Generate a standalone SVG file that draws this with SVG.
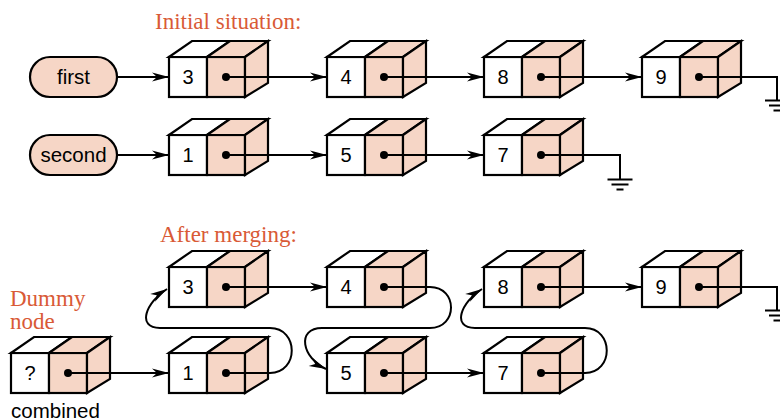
<svg xmlns="http://www.w3.org/2000/svg" width="780" height="418" viewBox="0 0 780 418">
<style>
  .w { fill: #ffffff; stroke: #000; stroke-width: 2.2; stroke-linejoin: miter; }
  .p { fill: #F6D6C6; stroke: #000; stroke-width: 2.2; stroke-linejoin: miter; }
  .dot { fill: #000; }
  .lbl { font-family: "Liberation Sans", Arial, sans-serif; font-size: 20px; text-anchor: middle; fill: #000; }
  .ptxt { font-family: "Liberation Sans", Arial, sans-serif; font-size: 20.5px; text-anchor: middle; fill: #000; }
  .title { font-family: "Liberation Serif", "Times New Roman", serif; font-size: 23px; fill: #D95A36; }
  .cap { font-family: "Liberation Sans", Arial, sans-serif; font-size: 20.5px; fill: #000; }
  .c { fill: none; stroke: #000; stroke-width: 2; }
  .a { fill: none; stroke: #000; stroke-width: 2; marker-end: url(#arr); }
</style>
<defs>
  <marker id="arr" markerUnits="userSpaceOnUse" viewBox="-18 -6 19 12" refX="0" refY="0" markerWidth="19" markerHeight="12" orient="auto">
    <path d="M0,0 L-17,-4.5 L-12,0 L-17,4.5 Z" fill="#000"/>
  </marker>
  <g id="box">
    <rect class="w" x="0" y="0" width="38" height="40"/>
    <rect class="p" x="38" y="0" width="38" height="40"/>
    <polygon class="w" points="0,0 23,-16 61,-16 38,0"/>
    <polygon class="p" points="38,0 61,-16 99,-16 76,0"/>
    <polygon class="p" points="76,0 99,-16 99,26 76,40"/>
    <circle class="dot" cx="57" cy="20" r="4"/>
  </g>
</defs>

<text class="title" x="155" y="29">Initial situation:</text>
<text class="title" x="160" y="241.5">After merging:</text>
<text class="title" x="10" y="306">Dummy</text>
<text class="title" x="10" y="329">node</text>

<g id="pill-first">
  <rect class="p" x="30" y="57" width="87" height="40" rx="20" ry="20"/>
  <text class="ptxt" x="73.5" y="83.5">first</text>
</g>
<g id="pill-second">
  <rect class="p" x="30" y="135" width="87" height="40" rx="20" ry="20"/>
  <text class="ptxt" x="73.5" y="161.5">second</text>
</g>

<g id="t-node3" transform="translate(169,57)"><use href="#box"/><text class="lbl" x="19" y="26.5">3</text></g>
<g id="t-node4" transform="translate(327,57)"><use href="#box"/><text class="lbl" x="19" y="26.5">4</text></g>
<g id="t-node8" transform="translate(484,57)"><use href="#box"/><text class="lbl" x="19" y="26.5">8</text></g>
<g id="t-node9" transform="translate(642,57)"><use href="#box"/><text class="lbl" x="19" y="26.5">9</text></g>
<g id="t-node1" transform="translate(169,135)"><use href="#box"/><text class="lbl" x="19" y="26.5">1</text></g>
<g id="t-node5" transform="translate(327,135)"><use href="#box"/><text class="lbl" x="19" y="26.5">5</text></g>
<g id="t-node7" transform="translate(484,135)"><use href="#box"/><text class="lbl" x="19" y="26.5">7</text></g>

<g id="b-node3" transform="translate(169,267)"><use href="#box"/><text class="lbl" x="19" y="26.5">3</text></g>
<g id="b-node4" transform="translate(327,267)"><use href="#box"/><text class="lbl" x="19" y="26.5">4</text></g>
<g id="b-node8" transform="translate(484,267)"><use href="#box"/><text class="lbl" x="19" y="26.5">8</text></g>
<g id="b-node9" transform="translate(642,267)"><use href="#box"/><text class="lbl" x="19" y="26.5">9</text></g>
<g id="b-dummy" transform="translate(11,353)"><use href="#box"/><text class="lbl" x="19" y="26.5">?</text></g>
<g id="b-node1" transform="translate(169,353)"><use href="#box"/><text class="lbl" x="19" y="26.5">1</text></g>
<g id="b-node5" transform="translate(327,353)"><use href="#box"/><text class="lbl" x="19" y="26.5">5</text></g>
<g id="b-node7" transform="translate(484,353)"><use href="#box"/><text class="lbl" x="19" y="26.5">7</text></g>

<text class="cap" x="11" y="418">combined</text>

<g id="connectors">
  <path class="a" d="M117,77 H169"/>
  <path class="a" d="M226,77 H327"/>
  <path class="a" d="M384,77 H484"/>
  <path class="a" d="M541,77 H642"/>
  <path class="c" d="M699,77 H777 V100.5 M765,100.5 H789 M769,105.5 H785 M773.5,110.5 H780.5"/>
  <path class="a" d="M117,155 H169"/>
  <path class="a" d="M226,155 H327"/>
  <path class="a" d="M384,155 H484"/>
  <path class="c" d="M541,155 H620 V179.5 M607.5,179.5 H632.5 M611.5,184.5 H628.5 M616.5,189.5 H623.5"/>

  <path class="a" d="M68,373 H169"/>
  <path class="a" d="M226,373 H270 C299,373 299,328 270,328 H160 C136,328 146,302 167,289"/>
  <path class="a" d="M226,287 H327"/>
  <path class="a" d="M384,287 H430 C458,287 458,328 430,328 H322 C296,328 302,358 326,369"/>
  <path class="a" d="M384,373 H484"/>
  <path class="a" d="M541,373 H585 C614,373 614,328 585,328 H475 C451,328 461,302 482,289"/>
  <path class="a" d="M541,287 H642"/>
  <path class="c" d="M699,287 H777 V310.5 M765,310.5 H789 M769,315.5 H785 M773.5,320.5 H780.5"/>
</g>
</svg>
